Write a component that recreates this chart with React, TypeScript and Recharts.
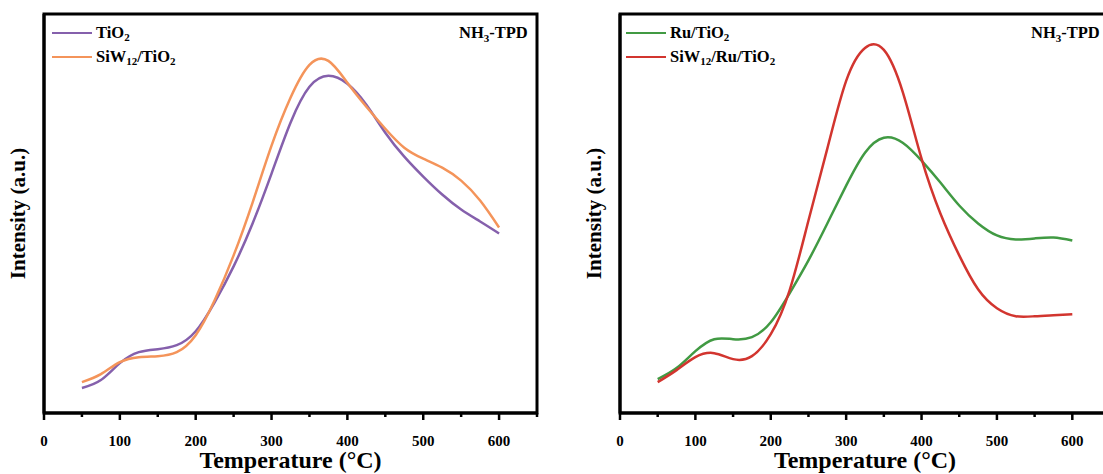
import React from 'react';
import { LineChart, Line, XAxis, YAxis } from 'recharts';

// temperatures (°C) and intensities (a.u.)
const tempsTiO2 = [50, 75, 100, 125, 150, 175, 200, 225, 250, 275, 300, 325, 350, 375, 400, 425, 450, 475, 500, 525, 550, 575, 600];
const intTiO2 = [25, 33, 50, 61, 64, 68, 82, 111, 147, 190, 240, 291, 327, 338, 330, 309, 281, 257, 237, 219, 204, 192, 180];

const tempsSiWTiO2 = [50, 75, 100, 125, 150, 175, 200, 225, 250, 275, 300, 325, 350, 375, 400, 425, 450, 475, 500, 525, 550, 575, 600];
const intSiWTiO2 = [31, 39, 51, 56, 57, 61, 78, 113, 158, 211, 268, 316, 349, 353, 331, 307, 285, 266, 255, 246, 233, 213, 186];

const tempsRuTiO2 = [50, 75, 100, 125, 150, 175, 200, 225, 250, 275, 300, 325, 350, 375, 400, 425, 450, 475, 500, 525, 550, 575, 600];
const intRuTiO2 = [34, 45, 62, 74, 74, 76, 91, 120, 153, 190, 228, 261, 276, 271, 253, 231, 208, 190, 178, 174, 175, 176, 173];

const tempsSiWRuTiO2 = [50, 75, 100, 125, 150, 175, 200, 225, 250, 275, 300, 325, 350, 375, 400, 425, 450, 475, 500, 525, 550, 575, 600];
const intSiWRuTiO2 = [31, 43, 56, 60, 54, 57, 79, 123, 193, 265, 333, 366, 364, 322, 255, 200, 158, 124, 105, 97, 97, 98, 99];

const xTicks = [0, 50, 100, 150, 200, 250, 300, 350, 400, 450, 500, 550, 600, 650];

const FONT = "'Liberation Serif', 'Times New Roman', serif";

const CHART_W = 560;
const CHART_H = 474;
const TOP = 14;
const X_AXIS_H = 61;
const Y_AXIS_W = 40;
const FRAME = 3;

const toRows = (temps: number[], vals: number[]) => temps.map((t, i) => ({ t, v: vals[i] }));

interface Series {
  name: string;
  color: string;
  data: { t: number; v: number }[];
}

const leftSeries: Series[] = [
  { name: 'TiO_2', color: '#8560AC', data: toRows(tempsTiO2, intTiO2) },
  { name: 'SiW_12/TiO_2', color: '#F4945A', data: toRows(tempsSiWTiO2, intSiWTiO2) },
];

const rightSeries: Series[] = [
  { name: 'Ru/TiO_2', color: '#419A43', data: toRows(tempsRuTiO2, intRuTiO2) },
  { name: 'SiW_12/Ru/TiO_2', color: '#D2352F', data: toRows(tempsSiWRuTiO2, intSiWRuTiO2) },
];

// "_12" -> subscript 12
const Formula = ({ text }: { text: string }) => {
  const parts = text.split(/_(\d+)/);
  return (
    <>
      {parts.map((p, i) =>
        i % 2 === 1 ? (
          <sub key={i} style={{ fontSize: 11, verticalAlign: 'baseline', position: 'relative', top: 4 }}>{p}</sub>
        ) : (
          <span key={i}>{p}</span>
        )
      )}
    </>
  );
};

const TempTick = ({ x, y, payload }: any) => {
  const major = payload.value % 100 === 0 && payload.value <= 600;
  return (
    <g>
      <line x1={x} x2={x} y1={y} y2={y + (major ? 7 : 4)} stroke="#000" strokeWidth={2.5} />
      {major && (
        <text x={x} y={y + 33} textAnchor="middle" fontSize={15} fontWeight="bold" fontFamily={FONT} fill="#000">
          {payload.value}
        </text>
      )}
    </g>
  );
};

const XTitle = ({ viewBox }: any) => (
  <text
    x={viewBox.x + viewBox.width / 2}
    y={468}
    textAnchor="middle"
    fontSize={24}
    fontWeight="bold"
    fontFamily={FONT}
    fill="#000"
  >
    Temperature (°C)
  </text>
);

const YTitle = ({ viewBox }: any) => {
  const cx = viewBox.x + viewBox.width - 26;
  const cy = viewBox.y + viewBox.height / 2;
  return (
    <text
      x={cx}
      y={cy}
      transform={`rotate(-90, ${cx}, ${cy})`}
      textAnchor="middle"
      dominantBaseline="central"
      fontSize={21}
      fontWeight="bold"
      fontFamily={FONT}
      fill="#000"
    >
      Intensity (a.u.)
    </text>
  );
};

const frame = { stroke: '#000', strokeWidth: FRAME };

const Panel = ({ series, left, marginLeft, marginRight, legendX, tagX }: {
  series: Series[];
  left: number;
  marginLeft: number;
  marginRight: number;
  legendX: number;
  tagX: number;
}) => {
  const plotLeft = marginLeft + Y_AXIS_W;
  const plotW = CHART_W - plotLeft - marginRight;
  const plotH = CHART_H - TOP - X_AXIS_H;
  return (
    <div style={{ position: 'absolute', left, top: 0, width: CHART_W, height: CHART_H }}>
      <LineChart width={CHART_W} height={CHART_H} margin={{ top: TOP, right: marginRight, bottom: 0, left: marginLeft }}>
        <XAxis
          dataKey="t"
          type="number"
          domain={[0, 650]}
          ticks={xTicks}
          interval={0}
          height={X_AXIS_H}
          tickSize={0}
          tickMargin={0}
          tickLine={false}
          tick={<TempTick />}
          axisLine={frame}
          label={<XTitle />}
        />
        <YAxis
          type="number"
          domain={[0, 400]}
          width={Y_AXIS_W}
          tick={false}
          tickLine={false}
          axisLine={frame}
          label={<YTitle />}
        />
        {series.map((s) => (
          <Line
            key={s.name}
            data={s.data}
            dataKey="v"
            type="natural"
            stroke={s.color}
            strokeWidth={2.5}
            dot={false}
            isAnimationActive={false}
          />
        ))}
      </LineChart>
      {/* plot frame drawn as a separate svg on top of the chart */}
      <svg
        width={CHART_W}
        height={CHART_H}
        style={{ position: 'absolute', left: 0, top: 0, pointerEvents: 'none' }}
      >
        <rect
          x={plotLeft}
          y={TOP}
          width={plotW}
          height={plotH}
          fill="none"
          stroke="#000"
          strokeWidth={FRAME}
        />
      </svg>
      {series.map((s, i) => (
        <div
          key={s.name}
          style={{
            position: 'absolute',
            left: legendX - left,
            top: 23 + i * 24,
            height: 20,
            display: 'flex',
            alignItems: 'center',
            fontFamily: FONT,
            fontWeight: 'bold',
            fontSize: 16.5,
            color: '#000',
            whiteSpace: 'nowrap',
          }}
        >
          <span style={{ display: 'inline-block', width: 40, height: 2.5, background: s.color, marginRight: 4 }} />
          <Formula text={s.name} />
        </div>
      ))}
      <div
        style={{
          position: 'absolute',
          left: tagX - left,
          top: 23,
          height: 20,
          fontFamily: FONT,
          fontWeight: 'bold',
          fontSize: 16.5,
          color: '#000',
          whiteSpace: 'nowrap',
          lineHeight: '20px',
        }}
      >
        <Formula text="NH_3-TPD" />
      </div>
    </div>
  );
};

export default function App() {
  return (
    <div style={{ position: 'absolute', left: 0, top: 0, width: 1103, height: 474, overflow: 'hidden', background: '#fff' }}>
      <Panel series={leftSeries} left={0} marginLeft={4} marginRight={23} legendX={52} tagX={459} />
      <Panel series={rightSeries} left={560} marginLeft={20} marginRight={10} legendX={626} tagX={1031} />
    </div>
  );
}
